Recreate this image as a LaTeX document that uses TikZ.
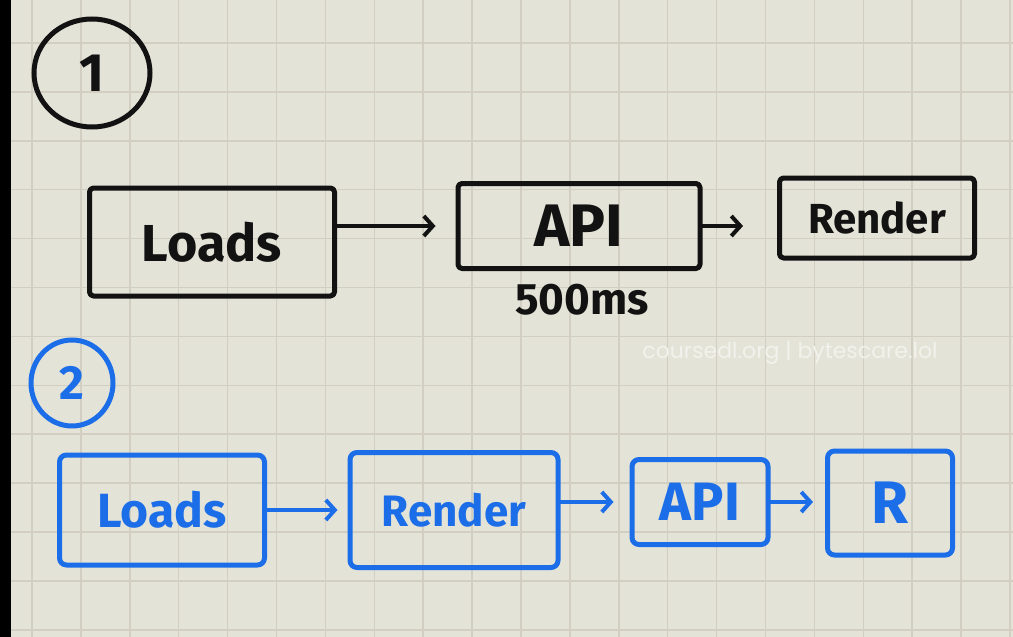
\documentclass[tikz,border=0pt]{standalone}
\usepackage{fontspec}
\setmainfont{Fira Sans}
\newfontfamily\markfont{Poppins}
\usetikzlibrary{positioning,shapes.geometric,arrows.meta,backgrounds}
\definecolor{paper}{RGB}{228,227,216}
\definecolor{gridline}{RGB}{210,207,194}
\definecolor{pen}{RGB}{18,18,18}
\definecolor{bluepen}{RGB}{28,110,232}
\definecolor{markgray}{RGB}{242,242,236}

\begin{document}
\begin{tikzpicture}[x=1pt,y=1pt]
                        \tikzstyle{every node}=[inner sep=0,rectangle]
                        \tikzstyle{box}=[draw=pen,text=pen,line width=5,rounded corners=4,line join=round]
                        \tikzstyle{bbox}=[box,draw=bluepen,text=bluepen,rounded corners=7]
                        \tikzstyle{ring}=[draw=pen,text=pen,line width=5,ellipse]
                        \tikzstyle{link}=[draw=pen,line width=4,line cap=round,-{Straight Barb[length=9,width=20]}]
                        \tikzstyle{blink}=[link,draw=bluepen]
                        \tikzstyle{note}=[text=pen]
                        % paper
                        \useasboundingbox (0,0) rectangle (1013,-637);
                        \fill[paper] (0,0) rectangle (1013,-637);
                        \foreach \gx in {0,...,20} {
                            \draw[gridline,line width=1.5] ({32+48.9*\gx},0) -- ++(0,-637);
                        }
                        \foreach \gy in {0,...,12} {
                            \draw[gridline,line width=1.5] (0,{-43-48.9*\gy}) -- ++(1013,0);
                        }
                        \fill[black] (0,0) rectangle (11,-637);
                        {
                            % first sequence
                            \node[ring,minimum width=116,minimum height=108,font=\bfseries\fontsize{54}{54}\selectfont] (one) at (92,-73) {1};
                            \node[box,minimum width=245,minimum height=108,font=\bfseries\fontsize{52}{52}\selectfont] (loadsA) at (212,-242) {Loads};
                            \node[box,minimum width=242,minimum height=85,font=\bfseries\fontsize{60}{60}\selectfont] (apiA) at (579,-226) {API};
                            \node[box,minimum width=195,minimum height=80,font=\bfseries\fontsize{42}{42}\selectfont] (renderA) at (877,-218) {Render};
                            \node[note,font=\bfseries\fontsize{44}{44}\selectfont] (timeA) at (582,-300) {500ms};

                            \draw[link,shorten >=20] (loadsA.east |- apiA.west) -- (apiA.west);
                            \draw[link,shorten >=34] (apiA.east) -- (renderA.west |- apiA.east);
                        }
                        {
                            % second sequence
                            \node[ring,draw=bluepen,text=bluepen,minimum width=82,minimum height=86,font=\bfseries\fontsize{48}{48}\selectfont] (two) at (72,-383) {2};
                            \node[bbox,minimum width=205,minimum height=110,font=\bfseries\fontsize{48}{48}\selectfont] (loadsB) at (162,-510) {Loads};
                            \node[bbox,minimum width=208,minimum height=115,font=\bfseries\fontsize{44}{44}\selectfont] (renderB) at (454,-510) {Render};
                            \node[bbox,minimum width=136,minimum height=85,font=\bfseries\fontsize{54}{54}\selectfont] (apiB) at (700,-502) {API};
                            \node[bbox,minimum width=125,minimum height=104,font=\bfseries\fontsize{60}{60}\selectfont] (rB) at (890,-503) {R};

                            \draw[blink,shorten >=10] (loadsB.east) -- (renderB.west);
                            \draw[blink,shorten >=16] (renderB.east |- apiB.west) -- (apiB.west);
                            \draw[blink,shorten >=12] (apiB.east) -- (rB.west |- apiB.east);
                        }
                        \node[text=markgray,font=\markfont\fontsize{22}{22}\selectfont] (mark) at (790,-353) {coursedl.org | bytescare.lol};
                    \end{tikzpicture}
\end{document}
